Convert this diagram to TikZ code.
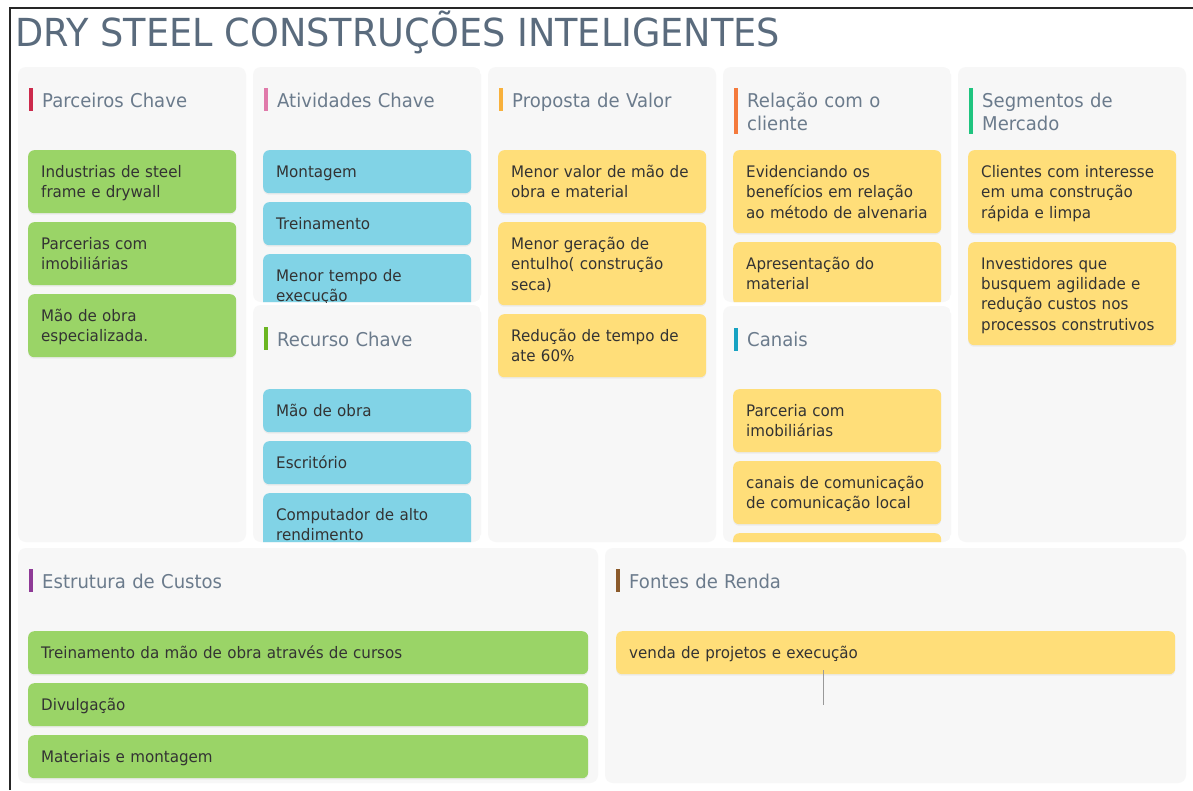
\documentclass[tikz,border=0pt]{standalone}
\usepackage{fontspec}
\setmainfont{DejaVu Sans}[FakeStretch=0.95]
\usetikzlibrary{shadows}
\definecolor{panelbg}{HTML}{F7F7F7}
\definecolor{titlegray}{HTML}{6B7B8C}
\definecolor{maingray}{HTML}{5A6B7D}
\definecolor{cardtext}{HTML}{333333}
\definecolor{cgreen}{HTML}{9AD467}
\definecolor{cblue}{HTML}{81D3E6}
\definecolor{cyellow}{HTML}{FFDE79}
\definecolor{barA}{HTML}{CC2A4C}
\definecolor{barB}{HTML}{E07AAA}
\definecolor{barC}{HTML}{F8B13C}
\definecolor{barD}{HTML}{F47A3C}
\definecolor{barE}{HTML}{1FC47F}
\definecolor{barF}{HTML}{6BB521}
\definecolor{barG}{HTML}{17A2C2}
\definecolor{barH}{HTML}{8E3A96}
\definecolor{barI}{HTML}{8B5A2B}
\newcommand\cardfnt{\fontsize{15.9}{20.4}\selectfont}
\newcommand\titlefnt{\fontsize{19}{23}\selectfont}
\newcommand\mainfnt{\fontsize{38.6}{44}\selectfont}
\tikzset{
  panel/.style={fill=panelbg, rounded corners=8pt, draw=none},
  card/.style={rounded corners=6pt, anchor=north west, align=left,
    inner xsep=13pt, inner ysep=0pt, font=\cardfnt, text=cardtext,
    minimum width=208pt, text width=182pt,
    execute at begin node={\rule{0pt}{18.3pt}},
    drop shadow={opacity=0.10, shadow xshift=0pt, shadow yshift=-1.5pt}},
  widecard/.style={card, minimum width=560pt, text width=534pt},
  h1/.style={minimum height=43pt},
  h2/.style={minimum height=63pt},
  h3/.style={minimum height=83pt},
  h4/.style={minimum height=103pt},
  ptitle/.style={anchor=base west, inner sep=0pt, align=left, text width=200pt,
    font=\titlefnt, text=titlegray},
  tbar/.style={line width=3.6pt},
}
\begin{document}
\begin{tikzpicture}[x=1pt,y=-1pt]
\useasboundingbox (0,0) rectangle (1193,790);
\fill[white] (0,0) rectangle (1193,790);
\draw[line width=1.6pt, black!85] (10,790) -- (10,8) -- (1193,8);
\node[anchor=base west, inner sep=0pt, font=\mainfnt, text=maingray] (maintitle) at (15,46) {DRY STEEL CONSTRUÇÕES INTELIGENTES};

% Parceiros Chave
\fill[panel] (18,67) rectangle (246,542);
\draw[tbar, barA] (31,88) -- (31,111);
\node[ptitle] (t1) at (42,107) {Parceiros Chave};
\node[card, h2, fill=cgreen] (a1) at (28,150) {\strut Industrias de steel\\frame e drywall\strut};
\node[card, h2, fill=cgreen] (a2) at (28,222) {\strut Parcerias com\\imobiliárias\strut};
\node[card, h2, fill=cgreen] (a3) at (28,294) {\strut Mão de obra\\especializada.\strut};

% Atividades Chave
\begin{scope}
\clip[rounded corners=8pt] (253,67) rectangle (481,302);
\fill[panel] (253,67) rectangle (481,302);
\draw[tbar, barB] (266,88) -- (266,111);
\node[ptitle] (t2) at (277,107) {Atividades Chave};
\node[card, h1, fill=cblue] (b1) at (263,150) {\strut Montagem\strut};
\node[card, h1, fill=cblue] (b2) at (263,202) {\strut Treinamento\strut};
\node[card, h2, fill=cblue] (b3) at (263,254) {\strut Menor tempo de\\execução\strut};
\end{scope}

% Recurso Chave
\begin{scope}
\clip[rounded corners=8pt] (253,305) rectangle (481,542);
\fill[panel] (253,305) rectangle (481,542);
\draw[tbar, barF] (266,327) -- (266,350);
\node[ptitle] (t3) at (277,346) {Recurso Chave};
\node[card, h1, fill=cblue] (c1) at (263,389) {\strut Mão de obra\strut};
\node[card, h1, fill=cblue] (c2) at (263,441) {\strut Escritório\strut};
\node[card, h2, fill=cblue] (c3) at (263,493) {\strut Computador de alto\\rendimento\strut};
\end{scope}

% Proposta de Valor
\fill[panel] (488,67) rectangle (716,542);
\draw[tbar, barC] (501,88) -- (501,111);
\node[ptitle] (t4) at (512,107) {Proposta de Valor};
\node[card, h2, fill=cyellow] (d1) at (498,150) {\strut Menor valor de mão de\\obra e material\strut};
\node[card, h3, fill=cyellow] (d2) at (498,222) {\strut Menor geração de\\entulho( construção\\seca)\strut};
\node[card, h2, fill=cyellow] (d3) at (498,314) {\strut Redução de tempo de\\ate 60\%\strut};

% Relação com o cliente
\begin{scope}
\clip[rounded corners=8pt] (723,67) rectangle (951,302);
\fill[panel] (723,67) rectangle (951,302);
\draw[tbar, barD] (736,88) -- (736,134);
\node[ptitle] (t5) at (747,107) {Relação com o\\cliente};
\node[card, h3, fill=cyellow] (e1) at (733,150) {\strut Evidenciando os\\benefícios em relação\\ao método de alvenaria\strut};
\node[card, h2, fill=cyellow] (e2) at (733,242) {\strut Apresentação do\\material\strut};
\end{scope}

% Canais
\begin{scope}
\clip[rounded corners=8pt] (723,306) rectangle (951,542);
\fill[panel] (723,306) rectangle (951,542);
\draw[tbar, barG] (736,328) -- (736,351);
\node[ptitle] (t6) at (747,346) {Canais};
\node[card, h2, fill=cyellow] (f1) at (733,389) {\strut Parceria com\\imobiliárias\strut};
\node[card, h2, fill=cyellow] (f2) at (733,461) {\strut canais de comunicação\\de comunicação local\strut};
\node[card, h2, fill=cyellow] (f3) at (733,533) {};
\end{scope}

% Segmentos de Mercado
\fill[panel] (958,67) rectangle (1186,542);
\draw[tbar, barE] (971,88) -- (971,134);
\node[ptitle] (t7) at (982,107) {Segmentos de\\Mercado};
\node[card, h3, fill=cyellow] (g1) at (968,150) {\strut Clientes com interesse\\em uma construção\\rápida e limpa\strut};
\node[card, h4, fill=cyellow] (g2) at (968,242) {\strut Investidores que\\busquem agilidade e\\redução custos nos\\processos construtivos\strut};

% Estrutura de Custos
\fill[panel] (18,548) rectangle (598,783);
\draw[tbar, barH] (31,569) -- (31,592);
\node[ptitle] (t8) at (42,588) {Estrutura de Custos};
\node[widecard, h1, fill=cgreen] (h1n) at (28,631) {\strut Treinamento da mão de obra através de cursos\strut};
\node[widecard, h1, fill=cgreen] (h2n) at (28,683) {\strut Divulgação\strut};
\node[widecard, h1, fill=cgreen] (h3n) at (28,735) {\strut Materiais e montagem\strut};

% Fontes de Renda
\fill[panel] (605,548) rectangle (1186,783);
\draw[tbar, barI] (618,569) -- (618,592);
\node[ptitle] (t9) at (629,588) {Fontes de Renda};
\node[widecard, h1, fill=cyellow, minimum width=559pt, text width=533pt] (i1) at (616,631) {\strut venda de projetos e execução\strut};
\coordinate (cur1) at (823,670);
\coordinate (cur2) at (823,705);
\draw[gray!80, line width=0.8pt] (cur1) -- (cur2);
\end{tikzpicture}
\end{document}
